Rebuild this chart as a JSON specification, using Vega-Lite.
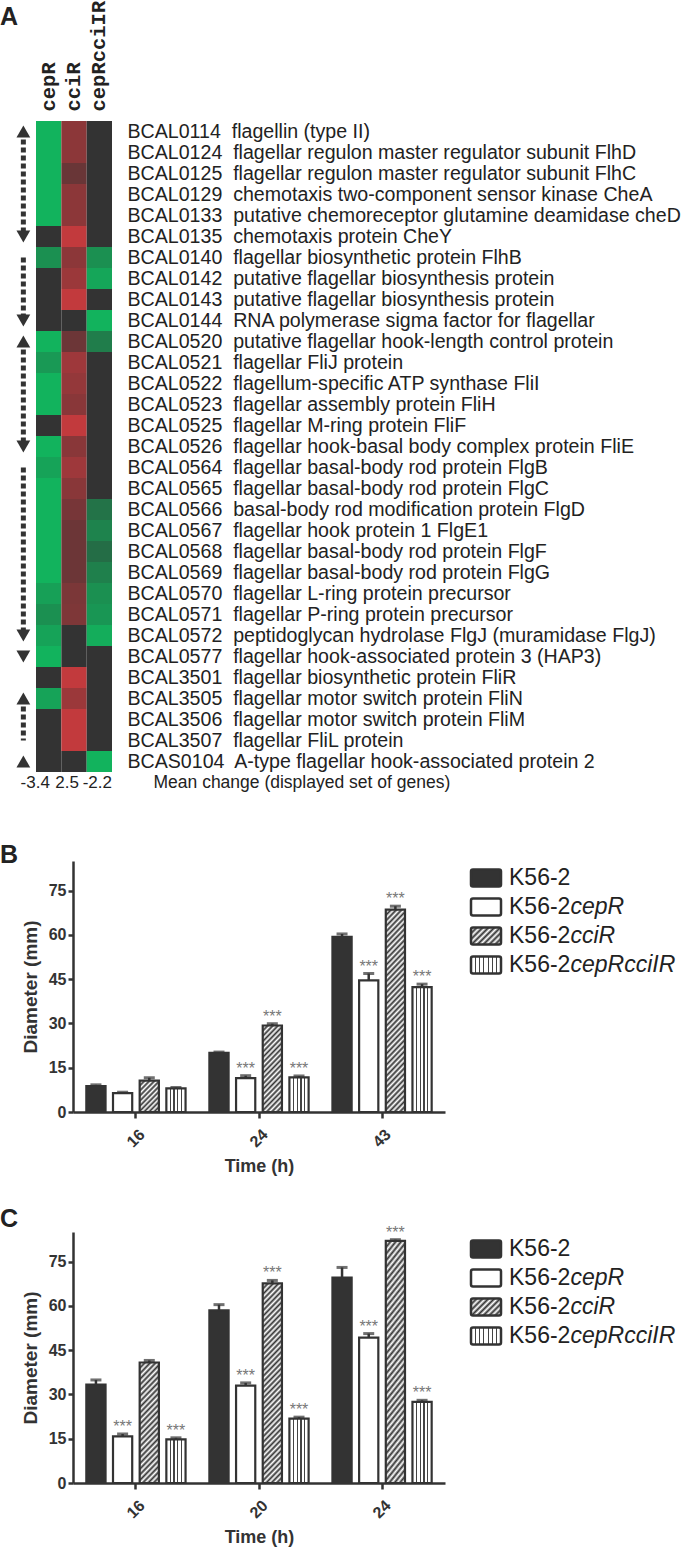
{
"$schema": "https://vega.github.io/schema/vega-lite/v6.json",
"padding": 0,
"background": "#ffffff",
"config": {"view": {"stroke": null}, "font": "Liberation Sans"},
"params": [
{"name": "VS", "value": {"gradient":"linear","x1":0,"y1":0,"x2":1,"y2":0,"stops":[{"offset":0,"color":"#fff"},{"offset":0.17,"color":"#fff"},{"offset":0.17,"color":"#444"},{"offset":0.23,"color":"#444"},{"offset":0.23,"color":"#fff"},{"offset":0.37,"color":"#fff"},{"offset":0.37,"color":"#444"},{"offset":0.43,"color":"#444"},{"offset":0.43,"color":"#fff"},{"offset":0.57,"color":"#fff"},{"offset":0.57,"color":"#444"},{"offset":0.63,"color":"#444"},{"offset":0.63,"color":"#fff"},{"offset":0.77,"color":"#fff"},{"offset":0.77,"color":"#444"},{"offset":0.83,"color":"#444"},{"offset":0.83,"color":"#fff"},{"offset":1,"color":"#fff"}]}},
{"name": "LV", "value": {"gradient":"linear","x1":0,"y1":0,"x2":1,"y2":0,"stops":[{"offset":0,"color":"#fff"},{"offset":0.123,"color":"#fff"},{"offset":0.123,"color":"#444"},{"offset":0.163,"color":"#444"},{"offset":0.163,"color":"#fff"},{"offset":0.266,"color":"#fff"},{"offset":0.266,"color":"#444"},{"offset":0.306,"color":"#444"},{"offset":0.306,"color":"#fff"},{"offset":0.409,"color":"#fff"},{"offset":0.409,"color":"#444"},{"offset":0.449,"color":"#444"},{"offset":0.449,"color":"#fff"},{"offset":0.551,"color":"#fff"},{"offset":0.551,"color":"#444"},{"offset":0.591,"color":"#444"},{"offset":0.591,"color":"#fff"},{"offset":0.694,"color":"#fff"},{"offset":0.694,"color":"#444"},{"offset":0.734,"color":"#444"},{"offset":0.734,"color":"#fff"},{"offset":0.837,"color":"#fff"},{"offset":0.837,"color":"#444"},{"offset":0.877,"color":"#444"},{"offset":0.877,"color":"#fff"},{"offset":1,"color":"#fff"}]}},
{"name": "LG", "value": {"gradient":"linear","x1":0,"y1":0,"x2":1.186,"y2":0.672,"stops":[{"offset":0,"color":"#333"},{"offset":0.0625,"color":"#fff"},{"offset":0.125,"color":"#333"},{"offset":0.1875,"color":"#fff"},{"offset":0.25,"color":"#333"},{"offset":0.3125,"color":"#fff"},{"offset":0.375,"color":"#333"},{"offset":0.4375,"color":"#fff"},{"offset":0.5,"color":"#333"},{"offset":0.5625,"color":"#fff"},{"offset":0.625,"color":"#333"},{"offset":0.6875,"color":"#fff"},{"offset":0.75,"color":"#333"},{"offset":0.8125,"color":"#fff"},{"offset":0.875,"color":"#333"},{"offset":0.9375,"color":"#fff"},{"offset":1,"color":"#333"}]}},
{"name": "G1", "value": {"gradient":"linear","x1":0,"y1":0,"x2":0.730,"y2":1.169,"stops":[{"offset":0,"color":"#333"},{"offset":0.05,"color":"#fff"},{"offset":0.1,"color":"#333"},{"offset":0.15,"color":"#fff"},{"offset":0.2,"color":"#333"},{"offset":0.25,"color":"#fff"},{"offset":0.3,"color":"#333"},{"offset":0.35,"color":"#fff"},{"offset":0.4,"color":"#333"},{"offset":0.45,"color":"#fff"},{"offset":0.5,"color":"#333"},{"offset":0.55,"color":"#fff"},{"offset":0.6,"color":"#333"},{"offset":0.65,"color":"#fff"},{"offset":0.7,"color":"#333"},{"offset":0.75,"color":"#fff"},{"offset":0.8,"color":"#333"},{"offset":0.85,"color":"#fff"},{"offset":0.9,"color":"#333"},{"offset":0.95,"color":"#fff"},{"offset":1,"color":"#333"}]}},
{"name": "G2", "value": {"gradient":"linear","x1":0,"y1":0,"x2":0.2685,"y2":1.168,"stops":[{"offset":0,"color":"#333"},{"offset":0.025,"color":"#fff"},{"offset":0.05,"color":"#333"},{"offset":0.075,"color":"#fff"},{"offset":0.1,"color":"#333"},{"offset":0.125,"color":"#fff"},{"offset":0.15,"color":"#333"},{"offset":0.175,"color":"#fff"},{"offset":0.2,"color":"#333"},{"offset":0.225,"color":"#fff"},{"offset":0.25,"color":"#333"},{"offset":0.275,"color":"#fff"},{"offset":0.3,"color":"#333"},{"offset":0.325,"color":"#fff"},{"offset":0.35,"color":"#333"},{"offset":0.375,"color":"#fff"},{"offset":0.4,"color":"#333"},{"offset":0.425,"color":"#fff"},{"offset":0.45,"color":"#333"},{"offset":0.475,"color":"#fff"},{"offset":0.5,"color":"#333"},{"offset":0.525,"color":"#fff"},{"offset":0.55,"color":"#333"},{"offset":0.575,"color":"#fff"},{"offset":0.6,"color":"#333"},{"offset":0.625,"color":"#fff"},{"offset":0.65,"color":"#333"},{"offset":0.675,"color":"#fff"},{"offset":0.7,"color":"#333"},{"offset":0.725,"color":"#fff"},{"offset":0.75,"color":"#333"},{"offset":0.775,"color":"#fff"},{"offset":0.8,"color":"#333"},{"offset":0.825,"color":"#fff"},{"offset":0.85,"color":"#333"},{"offset":0.875,"color":"#fff"},{"offset":0.9,"color":"#333"},{"offset":0.925,"color":"#fff"},{"offset":0.95,"color":"#333"},{"offset":0.975,"color":"#fff"},{"offset":1,"color":"#333"}]}},
{"name": "G3", "value": {"gradient":"linear","x1":0,"y1":0,"x2":0.1875,"y2":1.1343,"stops":[{"offset":0,"color":"#333"},{"offset":0.02,"color":"#fff"},{"offset":0.04,"color":"#333"},{"offset":0.06,"color":"#fff"},{"offset":0.08,"color":"#333"},{"offset":0.1,"color":"#fff"},{"offset":0.12,"color":"#333"},{"offset":0.14,"color":"#fff"},{"offset":0.16,"color":"#333"},{"offset":0.18,"color":"#fff"},{"offset":0.2,"color":"#333"},{"offset":0.22,"color":"#fff"},{"offset":0.24,"color":"#333"},{"offset":0.26,"color":"#fff"},{"offset":0.28,"color":"#333"},{"offset":0.3,"color":"#fff"},{"offset":0.32,"color":"#333"},{"offset":0.34,"color":"#fff"},{"offset":0.36,"color":"#333"},{"offset":0.38,"color":"#fff"},{"offset":0.4,"color":"#333"},{"offset":0.42,"color":"#fff"},{"offset":0.44,"color":"#333"},{"offset":0.46,"color":"#fff"},{"offset":0.48,"color":"#333"},{"offset":0.5,"color":"#fff"},{"offset":0.52,"color":"#333"},{"offset":0.54,"color":"#fff"},{"offset":0.56,"color":"#333"},{"offset":0.58,"color":"#fff"},{"offset":0.6,"color":"#333"},{"offset":0.62,"color":"#fff"},{"offset":0.64,"color":"#333"},{"offset":0.66,"color":"#fff"},{"offset":0.68,"color":"#333"},{"offset":0.7,"color":"#fff"},{"offset":0.72,"color":"#333"},{"offset":0.74,"color":"#fff"},{"offset":0.76,"color":"#333"},{"offset":0.78,"color":"#fff"},{"offset":0.8,"color":"#333"},{"offset":0.82,"color":"#fff"},{"offset":0.84,"color":"#333"},{"offset":0.86,"color":"#fff"},{"offset":0.88,"color":"#333"},{"offset":0.9,"color":"#fff"},{"offset":0.92,"color":"#333"},{"offset":0.94,"color":"#fff"},{"offset":0.96,"color":"#333"},{"offset":0.98,"color":"#fff"},{"offset":1,"color":"#333"}]}},
{"name": "G4", "value": {"gradient":"linear","x1":0,"y1":0,"x2":0.1083,"y2":1.0887,"stops":[{"offset":0,"color":"#333"},{"offset":0.0125,"color":"#fff"},{"offset":0.025,"color":"#333"},{"offset":0.0375,"color":"#fff"},{"offset":0.05,"color":"#333"},{"offset":0.0625,"color":"#fff"},{"offset":0.075,"color":"#333"},{"offset":0.0875,"color":"#fff"},{"offset":0.1,"color":"#333"},{"offset":0.1125,"color":"#fff"},{"offset":0.125,"color":"#333"},{"offset":0.1375,"color":"#fff"},{"offset":0.15,"color":"#333"},{"offset":0.1625,"color":"#fff"},{"offset":0.175,"color":"#333"},{"offset":0.1875,"color":"#fff"},{"offset":0.2,"color":"#333"},{"offset":0.2125,"color":"#fff"},{"offset":0.225,"color":"#333"},{"offset":0.2375,"color":"#fff"},{"offset":0.25,"color":"#333"},{"offset":0.2625,"color":"#fff"},{"offset":0.275,"color":"#333"},{"offset":0.2875,"color":"#fff"},{"offset":0.3,"color":"#333"},{"offset":0.3125,"color":"#fff"},{"offset":0.325,"color":"#333"},{"offset":0.3375,"color":"#fff"},{"offset":0.35,"color":"#333"},{"offset":0.3625,"color":"#fff"},{"offset":0.375,"color":"#333"},{"offset":0.3875,"color":"#fff"},{"offset":0.4,"color":"#333"},{"offset":0.4125,"color":"#fff"},{"offset":0.425,"color":"#333"},{"offset":0.4375,"color":"#fff"},{"offset":0.45,"color":"#333"},{"offset":0.4625,"color":"#fff"},{"offset":0.475,"color":"#333"},{"offset":0.4875,"color":"#fff"},{"offset":0.5,"color":"#333"},{"offset":0.5125,"color":"#fff"},{"offset":0.525,"color":"#333"},{"offset":0.5375,"color":"#fff"},{"offset":0.55,"color":"#333"},{"offset":0.5625,"color":"#fff"},{"offset":0.575,"color":"#333"},{"offset":0.5875,"color":"#fff"},{"offset":0.6,"color":"#333"},{"offset":0.6125,"color":"#fff"},{"offset":0.625,"color":"#333"},{"offset":0.6375,"color":"#fff"},{"offset":0.65,"color":"#333"},{"offset":0.6625,"color":"#fff"},{"offset":0.675,"color":"#333"},{"offset":0.6875,"color":"#fff"},{"offset":0.7,"color":"#333"},{"offset":0.7125,"color":"#fff"},{"offset":0.725,"color":"#333"},{"offset":0.7375,"color":"#fff"},{"offset":0.75,"color":"#333"},{"offset":0.7625,"color":"#fff"},{"offset":0.775,"color":"#333"},{"offset":0.7875,"color":"#fff"},{"offset":0.8,"color":"#333"},{"offset":0.8125,"color":"#fff"},{"offset":0.825,"color":"#333"},{"offset":0.8375,"color":"#fff"},{"offset":0.85,"color":"#333"},{"offset":0.8625,"color":"#fff"},{"offset":0.875,"color":"#333"},{"offset":0.8875,"color":"#fff"},{"offset":0.9,"color":"#333"},{"offset":0.9125,"color":"#fff"},{"offset":0.925,"color":"#333"},{"offset":0.9375,"color":"#fff"},{"offset":0.95,"color":"#333"},{"offset":0.9625,"color":"#fff"},{"offset":0.975,"color":"#333"},{"offset":0.9875,"color":"#fff"},{"offset":1,"color":"#333"}]}}
],
"datasets": {
"heat": [
{"gene":"BCAL0114\u00a0 flagellin (type II)","cepR":-4,"cciR":2.5,"cepRcciIR":0},
{"gene":"BCAL0124\u00a0 flagellar regulon master regulator subunit FlhD","cepR":-4,"cciR":2.5,"cepRcciIR":0},
{"gene":"BCAL0125\u00a0 flagellar regulon master regulator subunit FlhC","cepR":-4,"cciR":1.5,"cepRcciIR":0},
{"gene":"BCAL0129\u00a0 chemotaxis two-component sensor kinase CheA","cepR":-4,"cciR":2.5,"cepRcciIR":0},
{"gene":"BCAL0133\u00a0 putative chemoreceptor glutamine deamidase cheD","cepR":-4,"cciR":2.5,"cepRcciIR":0},
{"gene":"BCAL0135\u00a0 chemotaxis protein CheY","cepR":0,"cciR":4,"cepRcciIR":0},
{"gene":"BCAL0140\u00a0 flagellar biosynthetic protein FlhB","cepR":-2.9,"cciR":2.5,"cepRcciIR":-2.9},
{"gene":"BCAL0142\u00a0 putative flagellar biosynthesis protein","cepR":0,"cciR":2.9,"cepRcciIR":-3.6},
{"gene":"BCAL0143\u00a0 putative flagellar biosynthesis protein","cepR":0,"cciR":4,"cepRcciIR":0},
{"gene":"BCAL0144\u00a0 RNA polymerase sigma factor for flagellar","cepR":0,"cciR":0,"cepRcciIR":-4},
{"gene":"BCAL0520\u00a0 putative flagellar hook-length control protein","cepR":-4,"cciR":1.6,"cepRcciIR":-2.3},
{"gene":"BCAL0521\u00a0 flagellar FliJ protein","cepR":-3.2,"cciR":3.0,"cepRcciIR":0},
{"gene":"BCAL0522\u00a0 flagellum-specific ATP synthase FliI","cepR":-4,"cciR":2.7,"cepRcciIR":0},
{"gene":"BCAL0523\u00a0 flagellar assembly protein FliH","cepR":-4,"cciR":2.4,"cepRcciIR":0},
{"gene":"BCAL0525\u00a0 flagellar M-ring protein FliF","cepR":0,"cciR":4,"cepRcciIR":0},
{"gene":"BCAL0526\u00a0 flagellar hook-basal body complex protein FliE","cepR":-4,"cciR":2.4,"cepRcciIR":0},
{"gene":"BCAL0564\u00a0 flagellar basal-body rod protein FlgB","cepR":-3.5,"cciR":3.0,"cepRcciIR":0},
{"gene":"BCAL0565\u00a0 flagellar basal-body rod protein FlgC","cepR":-4,"cciR":2.4,"cepRcciIR":0},
{"gene":"BCAL0566\u00a0 basal-body rod modification protein FlgD","cepR":-4,"cciR":1.9,"cepRcciIR":-2.0},
{"gene":"BCAL0567\u00a0 flagellar hook protein 1 FlgE1","cepR":-4,"cciR":1.6,"cepRcciIR":-2.5},
{"gene":"BCAL0568\u00a0 flagellar basal-body rod protein FlgF","cepR":-4,"cciR":1.6,"cepRcciIR":-1.8},
{"gene":"BCAL0569\u00a0 flagellar basal-body rod protein FlgG","cepR":-4,"cciR":1.6,"cepRcciIR":-2.4},
{"gene":"BCAL0570\u00a0 flagellar L-ring protein precursor","cepR":-3.4,"cciR":2.0,"cepRcciIR":-2.9},
{"gene":"BCAL0571\u00a0 flagellar P-ring protein precursor","cepR":-2.9,"cciR":2.1,"cepRcciIR":-3.1},
{"gene":"BCAL0572\u00a0 peptidoglycan hydrolase FlgJ (muramidase FlgJ)","cepR":-3.5,"cciR":0,"cepRcciIR":-3.8},
{"gene":"BCAL0577\u00a0 flagellar hook-associated protein 3 (HAP3)","cepR":-4,"cciR":0,"cepRcciIR":0},
{"gene":"BCAL3501\u00a0 flagellar biosynthetic protein FliR","cepR":0,"cciR":4,"cepRcciIR":0},
{"gene":"BCAL3505\u00a0 flagellar motor switch protein FliN","cepR":-3.5,"cciR":2.9,"cepRcciIR":0},
{"gene":"BCAL3506\u00a0 flagellar motor switch protein FliM","cepR":0,"cciR":4,"cepRcciIR":0},
{"gene":"BCAL3507\u00a0 flagellar FliL protein","cepR":0,"cciR":4,"cepRcciIR":0},
{"gene":"BCAS0104\u00a0 A-type flagellar hook-associated protein 2","cepR":0,"cciR":0,"cepRcciIR":-4}
],
"means": [
{"gene":"Mean change (displayed set of genes)","col":"cepR","mean":-3.4},
{"gene":"Mean change (displayed set of genes)","col":"cciR","mean":2.5},
{"gene":"Mean change (displayed set of genes)","col":"cepRcciIR","mean":-2.2}
],
"arrows": [
{"gene":"BCAL0114\u00a0 flagellin (type II)","gene2":"BCAL0135\u00a0 chemotaxis protein CheY"},
{"gene":"BCAL0140\u00a0 flagellar biosynthetic protein FlhB","gene2":"BCAL0144\u00a0 RNA polymerase sigma factor for flagellar"},
{"gene":"BCAL0520\u00a0 putative flagellar hook-length control protein","gene2":"BCAL0526\u00a0 flagellar hook-basal body complex protein FliE"},
{"gene":"BCAL0564\u00a0 flagellar basal-body rod protein FlgB","gene2":"BCAL0572\u00a0 peptidoglycan hydrolase FlgJ (muramidase FlgJ)"},
{"gene":"BCAL3505\u00a0 flagellar motor switch protein FliN","gene2":"BCAL3507\u00a0 flagellar FliL protein"}
],
"heads": [
{"gene":"BCAL0114\u00a0 flagellin (type II)","dir":"up"},
{"gene":"BCAL0135\u00a0 chemotaxis protein CheY","dir":"down"},
{"gene":"BCAL0144\u00a0 RNA polymerase sigma factor for flagellar","dir":"down"},
{"gene":"BCAL0520\u00a0 putative flagellar hook-length control protein","dir":"up"},
{"gene":"BCAL0526\u00a0 flagellar hook-basal body complex protein FliE","dir":"down"},
{"gene":"BCAL0572\u00a0 peptidoglycan hydrolase FlgJ (muramidase FlgJ)","dir":"down"},
{"gene":"BCAL0577\u00a0 flagellar hook-associated protein 3 (HAP3)","dir":"down"},
{"gene":"BCAL3505\u00a0 flagellar motor switch protein FliN","dir":"up"},
{"gene":"BCAS0104\u00a0 A-type flagellar hook-associated protein 2","dir":"up"}
],
"legendRows": [
{"strain":"K56-2","prefix":"K56-2","suffix":""},
{"strain":"K56-2cepR","prefix":"K56-2","suffix":"cepR"},
{"strain":"K56-2cciR","prefix":"K56-2","suffix":"cciR"},
{"strain":"K56-2cepRcciIR","prefix":"K56-2","suffix":"cepRcciIR"}
],
"growthB": [
{"time":"16","strain":"K56-2","value":8.8,"err":0.4,"sig":""},
{"time":"16","strain":"K56-2cepR","value":6.4,"err":0.3,"sig":""},
{"time":"16","strain":"K56-2cciR","value":10.6,"err":1.0,"sig":""},
{"time":"16","strain":"K56-2cepRcciIR","value":8.0,"err":0.3,"sig":""},
{"time":"24","strain":"K56-2","value":20.0,"err":0.3,"sig":""},
{"time":"24","strain":"K56-2cepR","value":11.5,"err":0.8,"sig":"***"},
{"time":"24","strain":"K56-2cciR","value":29.3,"err":0.6,"sig":"***"},
{"time":"24","strain":"K56-2cepRcciIR","value":11.7,"err":0.5,"sig":"***"},
{"time":"43","strain":"K56-2","value":59.3,"err":1.0,"sig":""},
{"time":"43","strain":"K56-2cepR","value":44.6,"err":2.3,"sig":"***"},
{"time":"43","strain":"K56-2cciR","value":68.5,"err":1.2,"sig":"***"},
{"time":"43","strain":"K56-2cepRcciIR","value":42.3,"err":1.0,"sig":"***"}
],
"growthC": [
{"time":"16","strain":"K56-2","value":33.3,"err":1.6,"sig":""},
{"time":"16","strain":"K56-2cepR","value":15.8,"err":0.8,"sig":"***"},
{"time":"16","strain":"K56-2cciR","value":40.8,"err":0.7,"sig":""},
{"time":"16","strain":"K56-2cepRcciIR","value":14.8,"err":0.5,"sig":"***"},
{"time":"20","strain":"K56-2","value":58.5,"err":1.9,"sig":""},
{"time":"20","strain":"K56-2cepR","value":33.0,"err":0.9,"sig":"***"},
{"time":"20","strain":"K56-2cciR","value":67.6,"err":1.0,"sig":"***"},
{"time":"20","strain":"K56-2cepRcciIR","value":21.8,"err":0.5,"sig":"***"},
{"time":"24","strain":"K56-2","value":69.6,"err":3.4,"sig":""},
{"time":"24","strain":"K56-2cepR","value":49.2,"err":1.4,"sig":"***"},
{"time":"24","strain":"K56-2cciR","value":82.0,"err":0.4,"sig":"***"},
{"time":"24","strain":"K56-2cepRcciIR","value":27.5,"err":0.5,"sig":"***"}
]
},
"spacing": 50,
"vconcat": [
{
"width": 39, "height": 672,
"title": {"text": "A", "anchor": "start", "frame": "group", "dx": -73, "dy": 30, "offset": 0, "fontSize": 25, "fontWeight": "bold", "color": "#222"},
"layer": [
{"data": {"name": "heat"},
 "transform": [{"fold": ["cepR", "cciR", "cepRcciIR"], "as": ["col", "val"]}],
 "mark": {"type": "rect"},
 "encoding": {
  "x": {"field": "col", "type": "nominal", "title": null,
        "scale": {"domain": ["arr", "cepR", "cciR", "cepRcciIR"], "range": [-62.3, 39], "paddingInner": 0, "paddingOuter": 0},
        "axis": {"orient": "top", "values": ["cepR", "cciR", "cepRcciIR"], "labelAngle": -90, "labelAlign": "left", "labelBaseline": "middle", "labelFont": "Liberation Mono", "labelFontWeight": "bold", "labelFontSize": 20.5, "labelColor": "#222", "labelPadding": 10, "ticks": false, "domain": false, "title": null}},
  "y": {"field": "gene", "type": "nominal", "sort": null, "title": null,
        "scale": {"paddingInner": 0, "paddingOuter": 0},
        "axis": {"orient": "right", "ticks": false, "domain": false,
                 "labelPadding": {"condition": {"test": "datum.value === 'Mean change (displayed set of genes)'", "value": 41}, "value": 15},
                 "labelFontSize": {"condition": {"test": "datum.value === 'Mean change (displayed set of genes)'", "value": 17.5}, "value": 19.6},
                 "labelColor": "#222", "labelLimit": 1000, "title": null}},
  "color": {"field": "val", "type": "quantitative", "legend": null,
            "scale": {"domain": [-4, 0, 4], "range": ["#12b35d", "#333333", "#c23a3d"], "interpolate": "rgb"}}
 }},
{"data": {"name": "arrows"},
 "mark": {"type": "rule", "color": "#333", "strokeWidth": 5, "strokeDash": [5, 3]},
 "encoding": {
  "x": {"datum": "arr", "type": "nominal", "title": null},
  "y": {"field": "gene", "type": "nominal", "title": null},
  "y2": {"field": "gene2"}
 }},
{"data": {"name": "heads"},
 "mark": {"type": "point", "filled": true, "color": "#333", "size": 190, "opacity": 1},
 "encoding": {
  "x": {"datum": "arr", "type": "nominal", "title": null},
  "y": {"field": "gene", "type": "nominal", "title": null},
  "shape": {"field": "dir", "type": "nominal", "legend": null, "scale": {"domain": ["up", "down"], "range": ["triangle-up", "triangle-down"]}}
 }},
{"data": {"name": "means"},
 "mark": {"type": "text", "fontSize": 17, "color": "#222", "baseline": "middle", "align": "center",
          "dx": {"expr": "datum.col === 'cepR' ? -13.5 : (datum.col === 'cciR' ? -7 : -2)"}},
 "encoding": {
  "x": {"field": "col", "type": "nominal", "title": null},
  "y": {"field": "gene", "type": "nominal", "title": null},
  "text": {"field": "mean", "type": "nominal"}
 }}
]
},
{
"spacing": 30,
"vconcat": [
{
"spacing": 24,
"hconcat": [
{
"width": 372, "height": 251,
"title": {"text": "B", "anchor": "start", "frame": "group", "dx": -73, "dy": 7, "offset": 0, "fontSize": 25, "fontWeight": "bold", "color": "#222"},
"data": {"name": "growthB"},
"transform": [{"calculate": "datum.value + datum.err", "as": "hi"}],
"encoding": {
 "x": {"field": "time", "type": "ordinal", "title": "Time (h)",
       "scale": {"paddingInner": 0.133, "paddingOuter": 0.078},
       "axis": {"labelAngle": -45, "labelAlign": "center", "labelBaseline": "middle", "labelPadding": 20, "labelFontSize": 16, "labelFontWeight": "bold", "labelColor": "#333", "titleFontSize": 18, "titleFontWeight": "bold", "titleColor": "#333", "titlePadding": 8, "domainColor": "#333", "domainWidth": 2.5, "tickColor": "#333", "tickWidth": 2.5, "tickSize": 6}},
 "xOffset": {"field": "strain", "type": "nominal", "scale": {"domain": ["K56-2", "K56-2cepR", "K56-2cciR", "K56-2cepRcciIR"], "paddingInner": 0.28, "paddingOuter": 0.14}}
},
"layer": [
{"mark": {"type": "bar", "stroke": "#333", "strokeWidth": 2.2},
 "encoding": {
  "y": {"field": "value", "type": "quantitative", "title": "Diameter (mm)", "scale": {"domain": [0, 85], "nice": false},
        "axis": {"values": [0, 15, 30, 45, 60, 75], "grid": false, "labelFontSize": 16, "labelFontWeight": "bold", "labelColor": "#333", "labelPadding": 2, "titleFontSize": 19, "titleFontWeight": "bold", "titleColor": "#333", "titlePadding": 8, "domainColor": "#333", "domainWidth": 2.5, "tickColor": "#333", "tickWidth": 2.5, "tickSize": 5}},
  "fill": {"field": "strain", "type": "nominal", "legend": null,
   "scale": {"domain": ["K56-2", "K56-2cepR", "K56-2cciR", "K56-2cepRcciIR"], "range": ["#333333", "#ffffff", "#ffffff", "#ffffff"]},
   "condition": [
    {"test": "datum.strain === 'K56-2cepRcciIR'", "value": {"expr": "VS"}},
    {"test": "datum.strain === 'K56-2cciR' && datum.value < 20", "value": {"expr": "G1"}},
    {"test": "datum.strain === 'K56-2cciR' && datum.value < 35", "value": {"expr": "G2"}},
    {"test": "datum.strain === 'K56-2cciR' && datum.value < 55", "value": {"expr": "G3"}},
    {"test": "datum.strain === 'K56-2cciR'", "value": {"expr": "G4"}}
   ]}
 }},
{"mark": {"type": "rule", "color": "#333", "strokeWidth": 2.5},
 "encoding": {"y": {"field": "value", "type": "quantitative", "title": "Diameter (mm)", "scale": {"domain": [0, 85], "nice": false}}, "y2": {"field": "hi"}}},
{"mark": {"type": "tick", "color": "#333", "thickness": 3, "size": 11},
 "encoding": {"y": {"field": "hi", "type": "quantitative", "title": "Diameter (mm)", "scale": {"domain": [0, 85], "nice": false}}}},
{"mark": {"type": "text", "fontSize": 16, "color": "#777", "baseline": "alphabetic", "dy": -2},
 "encoding": {"y": {"field": "hi", "type": "quantitative", "title": "Diameter (mm)", "scale": {"domain": [0, 85], "nice": false}}, "text": {"field": "sig"}}}
]
},
{
"width": 30, "height": 121,
"data": {"name": "legendRows"},
"encoding": {
 "x": {"datum": "s", "type": "nominal", "scale": {"domain": ["s"], "paddingInner": 0, "paddingOuter": 0}, "axis": null},
 "y": {"field": "strain", "type": "nominal", "scale": {"domain": ["K56-2", "K56-2cepR", "K56-2cciR", "K56-2cepRcciIR"], "paddingInner": 0.414, "paddingOuter": 0.297}, "axis": null}
},
"layer": [
{"mark": {"type": "rect", "stroke": "#333", "strokeWidth": 2.5, "cornerRadius": 2},
 "encoding": {"fill": {"value": "#ffffff", "condition": [
   {"test": "datum.strain === 'K56-2'", "value": "#333333"},
   {"test": "datum.strain === 'K56-2cciR'", "value": {"expr": "LG"}},
   {"test": "datum.strain === 'K56-2cepRcciIR'", "value": {"expr": "LV"}}
 ]}}},
{"mark": {"type": "text", "align": "left", "baseline": "middle", "fontSize": 23, "color": "#222", "dx": 23},
 "encoding": {"text": {"field": "prefix"}}},
{"mark": {"type": "text", "align": "left", "baseline": "middle", "fontSize": 23, "fontStyle": "italic", "color": "#222", "dx": 84.5},
 "encoding": {"text": {"field": "suffix"}}}
]
}
]
},
{
"spacing": 24,
"hconcat": [
{
"width": 372, "height": 251,
"title": {"text": "C", "anchor": "start", "frame": "group", "dx": -73, "dy": 7, "offset": 0, "fontSize": 25, "fontWeight": "bold", "color": "#222"},
"data": {"name": "growthC"},
"transform": [{"calculate": "datum.value + datum.err", "as": "hi"}],
"encoding": {
 "x": {"field": "time", "type": "ordinal", "title": "Time (h)",
       "scale": {"paddingInner": 0.133, "paddingOuter": 0.078},
       "axis": {"labelAngle": -45, "labelAlign": "center", "labelBaseline": "middle", "labelPadding": 20, "labelFontSize": 16, "labelFontWeight": "bold", "labelColor": "#333", "titleFontSize": 18, "titleFontWeight": "bold", "titleColor": "#333", "titlePadding": 8, "domainColor": "#333", "domainWidth": 2.5, "tickColor": "#333", "tickWidth": 2.5, "tickSize": 6}},
 "xOffset": {"field": "strain", "type": "nominal", "scale": {"domain": ["K56-2", "K56-2cepR", "K56-2cciR", "K56-2cepRcciIR"], "paddingInner": 0.28, "paddingOuter": 0.14}}
},
"layer": [
{"mark": {"type": "bar", "stroke": "#333", "strokeWidth": 2.2},
 "encoding": {
  "y": {"field": "value", "type": "quantitative", "title": "Diameter (mm)", "scale": {"domain": [0, 85], "nice": false},
        "axis": {"values": [0, 15, 30, 45, 60, 75], "grid": false, "labelFontSize": 16, "labelFontWeight": "bold", "labelColor": "#333", "labelPadding": 2, "titleFontSize": 19, "titleFontWeight": "bold", "titleColor": "#333", "titlePadding": 8, "domainColor": "#333", "domainWidth": 2.5, "tickColor": "#333", "tickWidth": 2.5, "tickSize": 5}},
  "fill": {"field": "strain", "type": "nominal", "legend": null,
   "scale": {"domain": ["K56-2", "K56-2cepR", "K56-2cciR", "K56-2cepRcciIR"], "range": ["#333333", "#ffffff", "#ffffff", "#ffffff"]},
   "condition": [
    {"test": "datum.strain === 'K56-2cepRcciIR'", "value": {"expr": "VS"}},
    {"test": "datum.strain === 'K56-2cciR' && datum.value < 20", "value": {"expr": "G1"}},
    {"test": "datum.strain === 'K56-2cciR' && datum.value < 35", "value": {"expr": "G2"}},
    {"test": "datum.strain === 'K56-2cciR' && datum.value < 55", "value": {"expr": "G3"}},
    {"test": "datum.strain === 'K56-2cciR'", "value": {"expr": "G4"}}
   ]}
 }},
{"mark": {"type": "rule", "color": "#333", "strokeWidth": 2.5},
 "encoding": {"y": {"field": "value", "type": "quantitative", "title": "Diameter (mm)", "scale": {"domain": [0, 85], "nice": false}}, "y2": {"field": "hi"}}},
{"mark": {"type": "tick", "color": "#333", "thickness": 3, "size": 11},
 "encoding": {"y": {"field": "hi", "type": "quantitative", "title": "Diameter (mm)", "scale": {"domain": [0, 85], "nice": false}}}},
{"mark": {"type": "text", "fontSize": 16, "color": "#777", "baseline": "alphabetic", "dy": -2},
 "encoding": {"y": {"field": "hi", "type": "quantitative", "title": "Diameter (mm)", "scale": {"domain": [0, 85], "nice": false}}, "text": {"field": "sig"}}}
]
},
{
"width": 30, "height": 121,
"data": {"name": "legendRows"},
"encoding": {
 "x": {"datum": "s", "type": "nominal", "scale": {"domain": ["s"], "paddingInner": 0, "paddingOuter": 0}, "axis": null},
 "y": {"field": "strain", "type": "nominal", "scale": {"domain": ["K56-2", "K56-2cepR", "K56-2cciR", "K56-2cepRcciIR"], "paddingInner": 0.414, "paddingOuter": 0.297}, "axis": null}
},
"layer": [
{"mark": {"type": "rect", "stroke": "#333", "strokeWidth": 2.5, "cornerRadius": 2},
 "encoding": {"fill": {"value": "#ffffff", "condition": [
   {"test": "datum.strain === 'K56-2'", "value": "#333333"},
   {"test": "datum.strain === 'K56-2cciR'", "value": {"expr": "LG"}},
   {"test": "datum.strain === 'K56-2cepRcciIR'", "value": {"expr": "LV"}}
 ]}}},
{"mark": {"type": "text", "align": "left", "baseline": "middle", "fontSize": 23, "color": "#222", "dx": 23},
 "encoding": {"text": {"field": "prefix"}}},
{"mark": {"type": "text", "align": "left", "baseline": "middle", "fontSize": 23, "fontStyle": "italic", "color": "#222", "dx": 84.5},
 "encoding": {"text": {"field": "suffix"}}}
]
}
]
}
]
}
]
}
